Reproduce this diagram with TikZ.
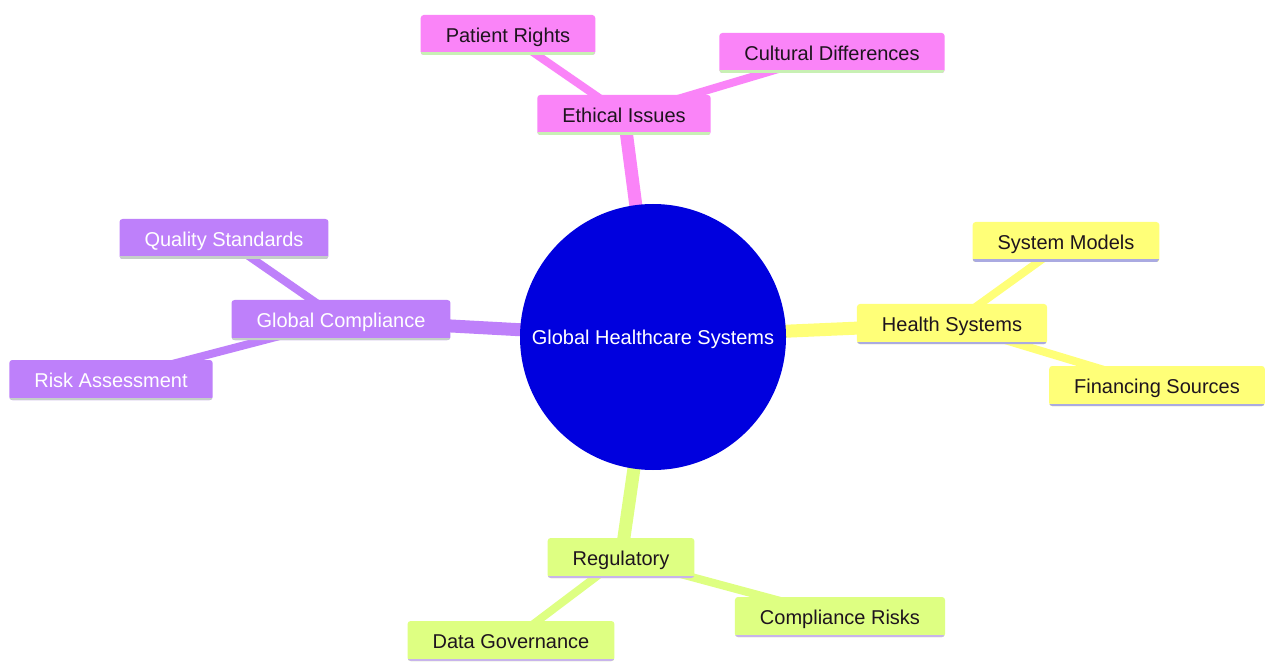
\documentclass[tikz,border=0pt]{standalone}
\usepackage{fontspec}
\setmainfont{Liberation Sans}
\usetikzlibrary{backgrounds}
\definecolor{pinkc}{RGB}{250,132,248}
\definecolor{purplec}{RGB}{190,128,250}
\definecolor{yellowc}{RGB}{255,255,120}
\definecolor{greenc}{RGB}{222,255,130}
\definecolor{bluec}{RGB}{0,0,222}
\definecolor{lgreenline}{RGB}{200,240,180}
\definecolor{lavline}{RGB}{170,170,225}
\definecolor{purpline}{RGB}{200,180,235}
\definecolor{txt}{RGB}{30,20,30}
\begin{document}
\begin{tikzpicture}[x=1pt,y=-1pt,
  box/.style={rectangle, rounded corners=3pt, minimum height=40pt, inner xsep=25pt,
    font=\fontsize{20}{24}\selectfont, text height=17pt, text depth=2pt},
  uline/.style={path picture={\draw[line width=5pt,#1] (path picture bounding box.south west) -- (path picture bounding box.south east);}},
  pinkbox/.style={box, fill=pinkc, text=txt, uline=lgreenline},
  purplebox/.style={box, fill=purplec, text=white, uline=lgreenline!70!purplec},
  yellowbox/.style={box, fill=yellowc, text=txt, uline=lavline},
  greenbox/.style={box, fill=greenc, text=txt, uline=purpline},
  mainedge/.style={line width=13pt},
  leafedge/.style={line width=8pt},
  root/.style={circle, fill=bluec, text=white, minimum size=266pt, inner sep=0pt,
    font=\fontsize{20}{24}\selectfont, text height=17pt, text depth=2pt}
]
\useasboundingbox (0,0) rectangle (1266,668);
\begin{scope}[on background layer]
  \fill[white] (0,0) rectangle (1266,668);
\end{scope}

\node[root] (c) at (653,337) {Global Healthcare Systems};

\node[pinkbox] (eth) at (624,115) {Ethical Issues};
\node[pinkbox] (pr) at (508,35) {Patient Rights};
\node[pinkbox] (cd) at (832,53) {Cultural Differences};

\node[purplebox] (gc) at (341,320) {Global Compliance};
\node[purplebox] (qs) at (224,239) {Quality Standards};
\node[purplebox] (ra) at (111,380) {Risk Assessment};

\node[yellowbox] (hs) at (952,324) {Health Systems};
\node[yellowbox] (sm) at (1066,242) {System Models};
\node[yellowbox] (fs) at (1157,386) {Financing Sources};

\node[greenbox] (reg) at (621,558) {Regulatory};
\node[greenbox] (cr) at (840,617) {Compliance Risks};
\node[greenbox] (dg) at (511,641) {Data Governance};

\begin{scope}[on background layer]
  \draw[mainedge, pinkc] (c.center) -- (eth.center);
  \draw[leafedge, pinkc] (eth.center) -- (pr.center);
  \draw[leafedge, pinkc] (eth.center) -- (cd.center);
  \draw[mainedge, purplec] (c.center) -- (gc.center);
  \draw[leafedge, purplec] (gc.center) -- (qs.center);
  \draw[leafedge, purplec] (gc.center) -- (ra.center);
  \draw[mainedge, yellowc] (c.center) -- (hs.center);
  \draw[leafedge, yellowc] (hs.center) -- (sm.center);
  \draw[leafedge, yellowc] (hs.center) -- (fs.center);
  \draw[mainedge, greenc] (c.center) -- (reg.center);
  \draw[leafedge, greenc] (reg.center) -- (cr.center);
  \draw[leafedge, greenc] (reg.center) -- (dg.center);
\end{scope}
\end{tikzpicture}
\end{document}
